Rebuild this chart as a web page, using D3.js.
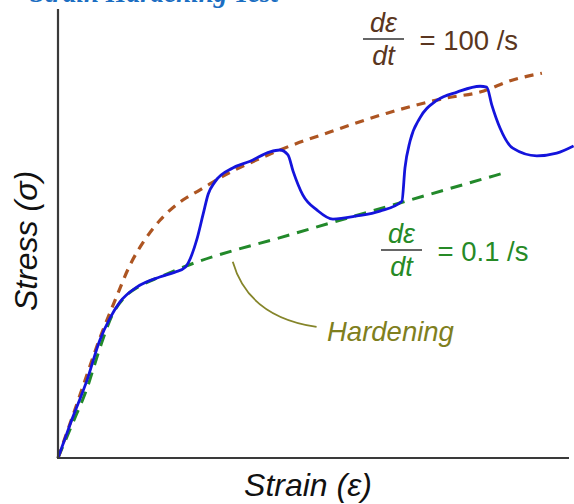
<!DOCTYPE html>
<html>
<head>
<meta charset="utf-8">
<script src="https://cdn.jsdelivr.net/npm/d3@7"></script>
<style>
  html, body { margin: 0; padding: 0; background: #fff; }
  svg { display: block; }
  text { font-family: "Liberation Sans", Arial, sans-serif; }
</style>
</head>
<body>
<div id="chart"></div>
<script>
// ── Data (strain, stress in arbitrary units 0–100) ─────────────────────────
const measuredStrain = [0, 2.7, 5.7, 8.2, 10.2, 12.1, 15.5, 19.9, 22.9, 24.9,
  27.2, 28.4, 29.4, 30.7, 34.2, 37.6, 41.5, 43.4, 45.0, 46.0, 47.9, 50.7,
  53.8, 58.5, 63.0, 67.3, 67.9, 68.9, 70.8, 74.2, 78.1, 82.6, 83.9, 84.9,
  86.5, 89.0, 93.7, 97.6, 100.9];
const measuredStress = [0, 8.5, 17.4, 26.3, 31.2, 34.7, 38.1, 40.3, 41.4, 42.5,
  48.8, 54.3, 58.8, 61.5, 64.6, 66.1, 68.2, 68.6, 67.5, 63.9, 58.6, 55.2,
  53.2, 53.9, 55.0, 57.2, 64.6, 70.6, 75.7, 79.7, 81.5, 82.8, 82.6, 78.6,
  73.5, 69.0, 67.3, 67.9, 69.5];

const fastStrain = [0, 4.3, 8.2, 11.2, 14.1, 17.0, 20.0, 24.5, 27.8, 32.3,
  38.9, 45.4, 53.2, 64.4, 76.1, 82.6, 89.0, 94.7];
const fastStress = [0, 14.0, 26.7, 35.2, 43.0, 48.6, 53.0, 57.5, 59.7, 62.8,
  66.4, 69.5, 72.6, 76.8, 80.2, 81.5, 84.2, 85.7];

const slowStrain = [0, 2.7, 5.7, 8.2, 10.6, 13.1, 16.0, 19.9, 24.5, 45.4,
  66.9, 87.9];
const slowStress = [0, 7.3, 15.6, 24.5, 31.8, 35.9, 38.3, 40.3, 42.5, 49.7,
  56.8, 63.7];

const hardeningStrain = [34.2, 37.3, 50.6];
const hardeningStress = [43.7, 31.4, 29.2];

const fastLabel = "= 100 /s";
const slowLabel = "= 0.1 /s";

// ── Dimensions ─────────────────────────────────────────────────────────────
const width = 574;
const height = 504;
const plot = { left: 58, right: 569, top: 9, bottom: 458 };

const svg = d3.select("#chart")
  .append("svg")
  .attr("width", width)
  .attr("height", height);

// ── Scales ─────────────────────────────────────────────────────────────────
const x = d3.scaleLinear().domain([0, 100]).range([plot.left, plot.right]);
const y = d3.scaleLinear().domain([0, 100]).range([plot.bottom, plot.top]);

const zip = (xs, ys) => xs.map((v, i) => [v, ys[i]]);

const line = d3.line()
  .x((d) => x(d[0]))
  .y((d) => y(d[1]))
  .curve(d3.curveMonotoneX);

// ── Title (cropped at top edge in the original) ────────────────────────────
svg.append("text")
  .attr("x", 30)
  .attr("y", 2)
  .attr("fill", "#1b6ec2")
  .style("font-family", "Liberation Serif")
  .style("font-weight", "bold")
  .style("font-style", "italic")
  .style("font-size", "27px")
  .text("Strain Hardening Test");

// ── Reference curves ───────────────────────────────────────────────────────
svg.append("path")
  .datum(zip(slowStrain, slowStress))
  .attr("d", line)
  .attr("fill", "none")
  .attr("stroke", "#22892a")
  .attr("stroke-width", 3)
  .attr("stroke-dasharray", "12 8");

svg.append("path")
  .datum(zip(fastStrain, fastStress))
  .attr("d", line)
  .attr("fill", "none")
  .attr("stroke", "#ad5522")
  .attr("stroke-width", 3.2)
  .attr("stroke-dasharray", "9 7");

// ── Measured curve ─────────────────────────────────────────────────────────
svg.append("path")
  .datum(zip(measuredStrain, measuredStress))
  .attr("d", line)
  .attr("fill", "none")
  .attr("stroke", "#1414dc")
  .attr("stroke-width", 2.8);

// ── Axes ───────────────────────────────────────────────────────────────────
svg.append("line")
  .attr("x1", plot.left).attr("x2", plot.left)
  .attr("y1", plot.top).attr("y2", plot.bottom)
  .attr("stroke", "#3a3a3a").attr("stroke-width", 2.2);

svg.append("line")
  .attr("x1", plot.left - 1).attr("x2", plot.right)
  .attr("y1", plot.bottom).attr("y2", plot.bottom)
  .attr("stroke", "#3a3a3a").attr("stroke-width", 2.2);

svg.append("text")
  .attr("x", 308)
  .attr("y", 496)
  .attr("text-anchor", "middle")
  .style("font-size", "32px")
  .style("font-style", "italic")
  .attr("fill", "#111")
  .text("Strain (ε)");

svg.append("text")
  .attr("transform", "translate(37,241) rotate(-90)")
  .attr("text-anchor", "middle")
  .style("font-size", "32px")
  .style("font-style", "italic")
  .attr("fill", "#111")
  .text("Stress (σ)");

// ── Rate labels ────────────────────────────────────────────────────────────
function rateLabel(cx, barY, color, label) {
  const g = svg.append("g").attr("fill", color);
  g.append("text")
    .attr("x", cx).attr("y", barY - 7)
    .attr("text-anchor", "middle")
    .style("font-size", "27px").style("font-style", "italic")
    .text("dε");
  g.append("line")
    .attr("x1", cx - 20.5).attr("x2", cx + 20.5)
    .attr("y1", barY).attr("y2", barY)
    .attr("stroke", "#333").attr("stroke-width", 1.6);
  g.append("text")
    .attr("x", cx).attr("y", barY + 26)
    .attr("text-anchor", "middle")
    .style("font-size", "27px").style("font-style", "italic")
    .text("dt");
  g.append("text")
    .attr("x", cx + 36).attr("y", barY + 11)
    .style("font-size", "27.5px")
    .text(label);
}

rateLabel(383.5, 39, "#5a3620", fastLabel);
rateLabel(401.5, 250, "#268a26", slowLabel);

// ── Hardening annotation ───────────────────────────────────────────────────
const hp = zip(hardeningStrain, hardeningStress).map((d) => [x(d[0]), y(d[1])]);
svg.append("path")
  .attr("d", `M${hp[0][0]},${hp[0][1]} Q${hp[1][0]},${hp[1][1]} ${hp[2][0]},${hp[2][1]}`)
  .attr("fill", "none")
  .attr("stroke", "#85852a")
  .attr("stroke-width", 1.8);

svg.append("text")
  .attr("x", 327)
  .attr("y", 341)
  .attr("fill", "#7f7f1e")
  .style("font-size", "27.5px")
  .style("font-style", "italic")
  .text("Hardening");
</script>
</body>
</html>
